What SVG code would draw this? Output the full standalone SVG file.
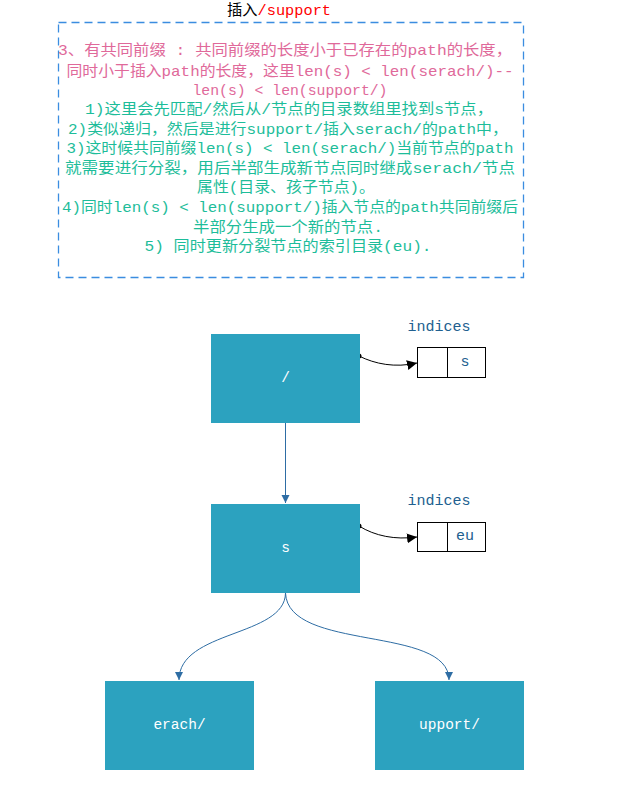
<svg xmlns="http://www.w3.org/2000/svg" width="640" height="798" viewBox="0 0 640 798">
<style>
.t{font-family:"Liberation Mono","Noto Sans CJK SC",monospace;font-size:15px;text-anchor:middle}
.pk{fill:#e0699a}
.gr{fill:#1dbd9a}
.node{fill:#2ca2bf}
.nt{font-family:"Liberation Mono",monospace;font-size:14.5px;fill:#ffffff;text-anchor:middle;dominant-baseline:central}
.lbl{font-family:"Liberation Mono",monospace;font-size:15px;fill:#21608f;text-anchor:middle}
.cell{fill:#ffffff;stroke:#000000;stroke-width:1}
.ct{font-family:"Liberation Mono",monospace;font-size:15px;fill:#21608f;text-anchor:middle;dominant-baseline:central}
.blue{fill:none;stroke:#2e6da4;stroke-width:1}
.blk{fill:none;stroke:#000000;stroke-width:1}
</style>
<defs>
<marker id="ab" markerWidth="10" markerHeight="10" refX="8" refY="5" orient="auto" markerUnits="userSpaceOnUse">
<path d="M0,1 L8,5 L0,9 Z" fill="#2e6da4"/>
</marker>
<marker id="ak" markerWidth="12" markerHeight="12" refX="10" refY="6" orient="auto" markerUnits="userSpaceOnUse">
<path d="M0,1 L10,6 L0,11 Z" fill="#000000"/>
</marker>
</defs>
<rect width="640" height="798" fill="#ffffff"/>
<g id="title">
<text class="t" x="279" y="15" textLength="104" lengthAdjust="spacingAndGlyphs"><tspan fill="#000000">插入</tspan><tspan fill="#ff0000">/support</tspan></text>
</g>
<g id="note">
<rect x="58.5" y="22.5" width="465" height="255" fill="none" stroke="#3b8de0" stroke-width="1.3" stroke-dasharray="8,5"/>
<text class="t pk" x="285" y="55" textLength="454" lengthAdjust="spacingAndGlyphs">3、有共同前缀 : 共同前缀的长度小于已存在的path的长度，</text>
<text class="t pk" x="290" y="76" textLength="447" lengthAdjust="spacingAndGlyphs">同时小于插入path的长度，这里len(s) &lt; len(serach/)--</text>
<text class="t pk" x="290" y="95" textLength="195" lengthAdjust="spacingAndGlyphs">len(s) &lt; len(support/)</text>
<text class="t gr" x="289" y="114" textLength="408" lengthAdjust="spacingAndGlyphs">1)这里会先匹配/然后从/节点的目录数组里找到s节点，</text>
<text class="t gr" x="288" y="134" textLength="440" lengthAdjust="spacingAndGlyphs">2)类似递归，然后是进行support/插入serach/的path中，</text>
<text class="t gr" x="290" y="153" textLength="447" lengthAdjust="spacingAndGlyphs">3)这时候共同前缀len(s) &lt; len(serach/)当前节点的path</text>
<text class="t gr" x="290" y="173" textLength="450" lengthAdjust="spacingAndGlyphs">就需要进行分裂，用后半部生成新节点同时继成serach/节点</text>
<text class="t gr" x="286" y="192" textLength="178" lengthAdjust="spacingAndGlyphs">属性(目录、孩子节点)。</text>
<text class="t gr" x="290" y="212" textLength="456" lengthAdjust="spacingAndGlyphs">4)同时len(s) &lt; len(support/)插入节点的path共同前缀后</text>
<text class="t gr" x="288" y="232" textLength="190" lengthAdjust="spacingAndGlyphs">半部分生成一个新的节点.</text>
<text class="t gr" x="288" y="251" textLength="287" lengthAdjust="spacingAndGlyphs">5) 同时更新分裂节点的索引目录(eu).</text>
</g>
<g id="connectors">
<path class="blue" d="M285.5,423 L285.5,503" marker-end="url(#ab)"/>
<path class="blue" d="M285.5,593 C285,637 179,630 179,680" marker-end="url(#ab)"/>
<path class="blue" d="M285.5,593 C288,652 449,625 449,680" marker-end="url(#ab)"/>
<path class="blk" d="M359,356 C375,364 395,368 417,363" marker-end="url(#ak)"/>
<circle cx="359" cy="356" r="2.5" fill="#000000"/>
<path class="blk" d="M359,526 C375,536 395,540 417,537" marker-end="url(#ak)"/>
<circle cx="359" cy="526" r="2.5" fill="#000000"/>
</g>
<g id="node-root">
<rect class="node" x="211" y="334" width="149" height="89"/>
<text class="nt" x="285.5" y="378">/</text>
</g>
<g id="indices-root">
<text class="lbl" x="439" y="331">indices</text>
<rect class="cell" x="417.5" y="347.5" width="68" height="30"/>
<line x1="447.5" y1="347.5" x2="447.5" y2="377.5" stroke="#000000"/>
<text class="ct" x="465" y="362">s</text>
</g>
<g id="node-s">
<rect class="node" x="211" y="504" width="149" height="89"/>
<text class="nt" x="285.5" y="548">s</text>
</g>
<g id="indices-s">
<text class="lbl" x="439" y="505">indices</text>
<rect class="cell" x="417.5" y="522.5" width="68" height="29"/>
<line x1="447.5" y1="522.5" x2="447.5" y2="551.5" stroke="#000000"/>
<text class="ct" x="465" y="536">eu</text>
</g>
<g id="node-erach">
<rect class="node" x="105" y="681" width="149" height="89"/>
<text class="nt" x="179.5" y="725">erach/</text>
</g>
<g id="node-upport">
<rect class="node" x="375" y="681" width="149" height="89"/>
<text class="nt" x="449.5" y="725">upport/</text>
</g>
</svg>
